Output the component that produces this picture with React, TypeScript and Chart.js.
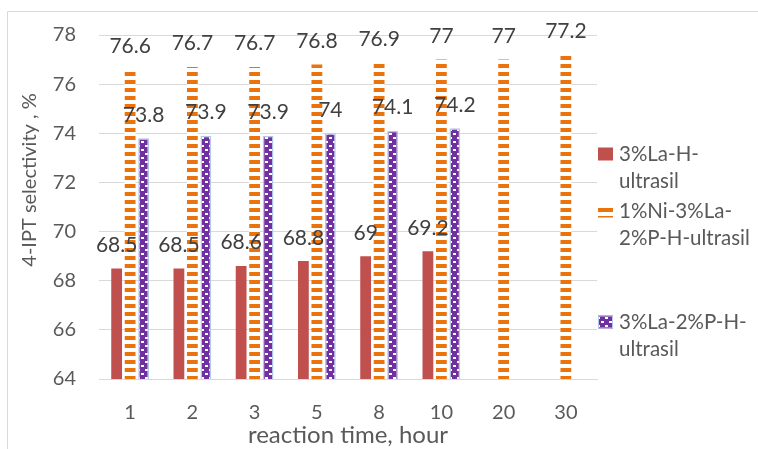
import React, { useEffect, useRef } from "react";
import { Chart, registerables } from "chart.js";

Chart.register(...registerables);

const categories = ["1", "2", "3", "5", "8", "10", "20", "30"];
const laH = [68.5, 68.5, 68.6, 68.8, 69, 69.2, null, null];
const niLaP = [76.6, 76.7, 76.7, 76.8, 76.9, 77, 77, 77.2];
const laP = [73.8, 73.9, 73.9, 74, 74.1, 74.2, null, null];
const seriesLabels = [
  ["3%La-H-", "ultrasil"],
  ["1%Ni-3%La-", "2%P-H-ultrasil"],
  ["3%La-2%P-H-", "ultrasil"],
];
const yMin = 64;
const yMax = 78;
const yStep = 2;
const xTitle = "reaction time, hour";
const yTitle = "4-IPT selectivity , %";

const RED = "#c0504d";
const ORANGE = "#ea730e";
const PURPLE = "#7030a0";
const PURPLE_BORDER = "#b4c7e7";
const FONT = "Lato";

function stripePattern(ctx: CanvasRenderingContext2D) {
  const c = document.createElement("canvas");
  c.width = 4;
  c.height = 8;
  const g = c.getContext("2d")!;
  g.fillStyle = "#ffffff";
  g.fillRect(0, 0, 4, 8);
  g.fillStyle = ORANGE;
  g.fillRect(0, 0, 4, 4);
  return ctx.createPattern(c, "repeat")!;
}

function checkPattern(ctx: CanvasRenderingContext2D) {
  const c = document.createElement("canvas");
  c.width = 8;
  c.height = 8;
  const g = c.getContext("2d")!;
  g.fillStyle = PURPLE;
  g.fillRect(0, 0, 8, 8);
  g.fillStyle = "#ffffff";
  g.fillRect(1, 1, 3, 2);
  g.fillRect(5, 5, 3, 2);
  return ctx.createPattern(c, "repeat")!;
}

export default function App() {
  const ref = useRef<HTMLCanvasElement | null>(null);

  useEffect(() => {
    const canvas = ref.current!;
    const ctx = canvas.getContext("2d")!;
    const orangeFill = stripePattern(ctx);
    const purpleFill = checkPattern(ctx);
    const fills: any[] = [RED, orangeFill, purpleFill];

    const decor = {
      id: "decor",
      beforeDraw(chart: any) {
        const c = chart.ctx;
        c.save();
        c.strokeStyle = "#d9d9d9";
        c.lineWidth = 1;
        c.beginPath();
        c.moveTo(7.5, 449);
        c.lineTo(7.5, 11.5);
        c.lineTo(758, 11.5);
        c.stroke();
        c.restore();
      },
      afterDatasetsDraw(chart: any) {
        const c = chart.ctx;
        c.save();
        c.font = `21px ${FONT}`;
        c.fillStyle = "#404040";
        c.textAlign = "center";
        c.textBaseline = "alphabetic";
        chart.data.datasets.forEach((ds: any, i: number) => {
          const meta = chart.getDatasetMeta(i);
          meta.data.forEach((el: any, j: number) => {
            const v = ds.data[j];
            if (v == null) return;
            const y = Math.max(el.y - 16.5, 38);
            c.fillText(String(v), el.x, y);
          });
        });
        c.restore();
      },
      afterDraw(chart: any) {
        const c = chart.ctx;
        const area = chart.chartArea;
        c.save();
        c.fillStyle = "#595959";
        c.font = `24px ${FONT}`;
        c.textAlign = "center";
        c.textBaseline = "middle";
        c.fillText(xTitle, (area.left + area.right) / 2, 435);
        c.save();
        c.font = `20px ${FONT}`;
        c.translate(30, 180);
        c.rotate(-Math.PI / 2);
        c.fillText(yTitle, 0, 0);
        c.restore();

        // legend
        const itemTops = [154, 211, 322];
        c.font = `20.5px ${FONT}`;
        c.textAlign = "left";
        seriesLabels.forEach((lines, i) => {
          const cy = itemTops[i];
          const mx = 598;
          const my = cy - 6.5;
          c.fillStyle = fills[i];
          c.fillRect(mx, my, 15, 13);
          if (i === 2) {
            c.strokeStyle = PURPLE_BORDER;
            c.lineWidth = 1;
            c.strokeRect(mx + 0.5, my + 0.5, 14, 12);
          }
          c.fillStyle = "#595959";
          lines.forEach((t, k) => {
            c.fillText(t, 619, cy + k * 27);
          });
        });
        c.restore();
      },
    };

    const chart = new Chart(canvas, {
      type: "bar",
      data: {
        labels: categories,
        datasets: [
          { label: seriesLabels[0].join(""), data: laH, backgroundColor: RED, borderWidth: 0 },
          { label: seriesLabels[1].join(""), data: niLaP, backgroundColor: orangeFill, borderWidth: 0 },
          {
            label: seriesLabels[2].join(""),
            data: laP,
            backgroundColor: purpleFill,
            borderColor: PURPLE_BORDER,
            borderWidth: 1.5,
          },
        ] as any,
      },
      options: {
        animation: false,
        responsive: false,
        maintainAspectRatio: false,
        datasets: { bar: { categoryPercentage: 0.65, barPercentage: 0.8 } },
        layout: { padding: { left: 0, top: 29, right: 161, bottom: 0 } },
        plugins: { legend: { display: false }, tooltip: { enabled: false } },
        scales: {
          x: {
            grid: { display: false },
            border: { display: true, color: "#d9d9d9", width: 1 },
            ticks: { color: "#595959", font: { family: FONT, size: 20 }, padding: 14, maxRotation: 0 },
            afterFit: (s: any) => {
              s.height = 70;
            },
          },
          y: {
            min: yMin,
            max: yMax,
            grid: { color: "#d9d9d9", lineWidth: 1, drawTicks: false },
            border: { display: false },
            ticks: {
              stepSize: yStep,
              color: "#595959",
              font: { family: FONT, size: 20 },
              padding: 23,
            },
            afterFit: (s: any) => {
              s.width = 99;
            },
          },
        },
      },
      plugins: [decor],
    });
    return () => chart.destroy();
  }, []);

  return (
    <div style={{ position: "absolute", left: 0, top: 0, width: 758, height: 449, overflow: "hidden", background: "#fff" }}>
      <canvas ref={ref} width={758} height={449} style={{ width: 758, height: 449, display: "block" }} />
    </div>
  );
}
